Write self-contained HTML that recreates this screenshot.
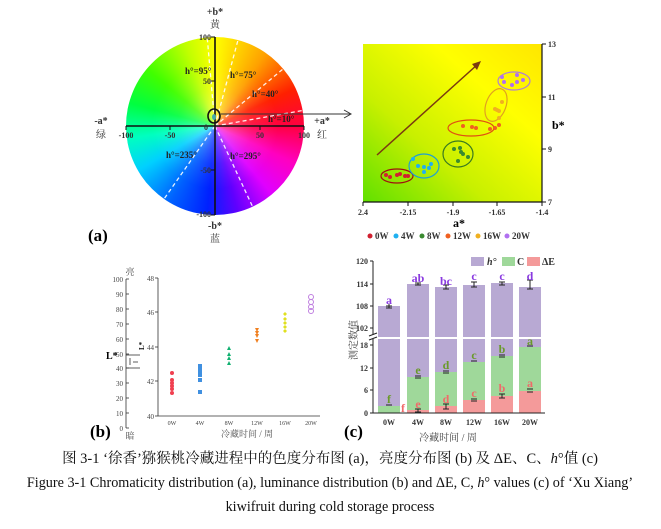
<!DOCTYPE html>
<html><head><meta charset="utf-8">
<style>
body{margin:0;background:#fff;}
svg{display:block;font-family:"Liberation Serif","Noto Serif CJK SC",serif;}
.wheel{position:absolute;left:126px;top:37px;width:178px;height:178px;border-radius:50%;
background:conic-gradient(from 0deg,#ffff00 0deg,#ffa000 35deg,#ff2000 65deg,#ff0040 90deg,#ff00c0 115deg,#e000ff 140deg,#6000ff 165deg,#0020ff 185deg,#0060ff 210deg,#00d0ff 240deg,#00ffc0 262deg,#00ff40 285deg,#40ff00 310deg,#c0ff00 340deg,#ffff00 360deg);}
.wheel:after{content:"";position:absolute;inset:0;border-radius:50%;background:radial-gradient(circle,rgba(255,255,255,0.35) 0%,rgba(255,255,255,0.08) 30%,rgba(255,255,255,0) 50%);}
.ab{position:absolute;left:363px;top:44px;width:179px;height:158px;background:linear-gradient(to top right,#60e000 0%,#c8f000 35%,#ffff00 70%,#ffe600 100%);}
</style></head><body>
<div style="position:relative;width:661px;height:529px;overflow:hidden">
<div class="wheel"></div>
<div class="ab"></div>
<svg width="661" height="529" style="position:absolute;left:0;top:0">
<g stroke="#fff" stroke-width="1.3" stroke-dasharray="4,3" opacity="0.9">
<line x1="215" y1="126" x2="302.6" y2="110.5"/>
<line x1="215" y1="126" x2="283.2" y2="68.8"/>
<line x1="215" y1="126" x2="238" y2="40"/>
<line x1="215" y1="126" x2="207.2" y2="37.3"/>
<line x1="215" y1="126" x2="164" y2="199"/>
<line x1="215" y1="126" x2="252.6" y2="206.7"/>
</g>
<g stroke="#111" stroke-width="1.6" fill="none">
<line x1="126" y1="126" x2="304" y2="126"/>
<line x1="215" y1="37" x2="215" y2="215"/>
<ellipse cx="214" cy="116" rx="6" ry="7"/>
</g>
<line x1="221" y1="114" x2="350" y2="114" stroke="#333" stroke-width="1"/>
<path d="M344,110 L351,114 L344,118" stroke="#333" fill="none"/>
<ellipse cx="214" cy="117" rx="2" ry="3" fill="#4aa"/>
<g stroke="#111" stroke-width="1">
<line x1="126" y1="126" x2="126" y2="130"/><line x1="170" y1="126" x2="170" y2="130"/><line x1="260" y1="126" x2="260" y2="130"/><line x1="304" y1="126" x2="304" y2="130"/>
<line x1="211" y1="37" x2="215" y2="37"/><line x1="211" y1="81" x2="215" y2="81"/><line x1="211" y1="170" x2="215" y2="170"/><line x1="211" y1="215" x2="215" y2="215"/>
</g>
<g font-size="8" font-weight="bold" fill="#333">
<text x="126" y="138" text-anchor="middle">-100</text><text x="170" y="138" text-anchor="middle">-50</text><text x="260" y="138" text-anchor="middle">50</text><text x="304" y="138" text-anchor="middle">100</text>
<text x="211" y="40" text-anchor="end">100</text><text x="211" y="84" text-anchor="end">50</text><text x="211" y="173" text-anchor="end">-50</text><text x="211" y="217" text-anchor="end">-100</text>
<text x="208" y="130" text-anchor="end">0</text>
</g>
<g font-size="9" font-weight="bold" fill="#222">
<text x="185" y="74">h°=95°</text><text x="230" y="78">h°=75°</text><text x="252" y="97">h°=40°</text><text x="268" y="122">h°=10°</text>
<text x="166" y="158">h°=235°</text><text x="230" y="159">h°=295°</text>
</g>
<g font-size="10" font-weight="bold" fill="#333" text-anchor="middle">
<text x="215" y="15">+b*</text><text x="215" y="28" font-weight="normal">黄</text>
<text x="215" y="229">-b*</text><text x="215" y="242" font-weight="normal">蓝</text>
<text x="101" y="124">-a*</text><text x="101" y="138" font-weight="normal">绿</text>
<text x="322" y="124">+a*</text><text x="322" y="138" font-weight="normal">红</text>
</g>
<text x="88" y="241" font-size="17" font-weight="bold">(a)</text>

<g stroke="#111" stroke-width="1.2" fill="none">
<line x1="363" y1="202" x2="542" y2="202"/><line x1="542" y1="44" x2="542" y2="202"/>
</g>
<g stroke="#111" stroke-width="1">
<line x1="363" y1="202" x2="363" y2="206"/><line x1="408" y1="202" x2="408" y2="206"/><line x1="453" y1="202" x2="453" y2="206"/><line x1="497" y1="202" x2="497" y2="206"/><line x1="542" y1="202" x2="542" y2="206"/>
<line x1="542" y1="44" x2="546" y2="44"/><line x1="542" y1="97" x2="546" y2="97"/><line x1="542" y1="149" x2="546" y2="149"/><line x1="542" y1="202" x2="546" y2="202"/>
</g>
<g font-size="8" font-weight="bold" fill="#333">
<text x="363" y="215" text-anchor="middle">2.4</text><text x="408" y="215" text-anchor="middle">-2.15</text><text x="453" y="215" text-anchor="middle">-1.9</text><text x="497" y="215" text-anchor="middle">-1.65</text><text x="542" y="215" text-anchor="middle">-1.4</text>
<text x="548" y="47">13</text><text x="548" y="100">11</text><text x="548" y="152">9</text><text x="548" y="205">7</text>
</g>
<text x="459" y="227" font-size="12" font-weight="bold" text-anchor="middle">a*</text>
<text x="552" y="129" font-size="12" font-weight="bold">b*</text>
<line x1="377" y1="155" x2="478" y2="64" stroke="#7a3a10" stroke-width="1.5"/>
<path d="M472,64 L481,61 L477,70 Z" fill="#7a3a10"/>
<g fill="none" stroke-width="1.2">
<ellipse cx="397" cy="176" rx="16" ry="7" stroke="#a01010"/>
<ellipse cx="424" cy="166" rx="15" ry="12" stroke="#20a0d0"/>
<ellipse cx="458" cy="154" rx="15" ry="13" stroke="#3a7a20"/>
<ellipse cx="471" cy="128" rx="23" ry="8" stroke="#e05010"/>
<ellipse cx="496" cy="105" rx="10" ry="17" stroke="#e0a020" transform="rotate(20 496 105)"/>
<ellipse cx="514" cy="81" rx="16" ry="9" stroke="#b080d0"/>
</g>
<g fill="#d02030"><circle cx="386" cy="175" r="2"/><circle cx="390" cy="177" r="2"/><circle cx="397" cy="175" r="2"/><circle cx="400" cy="174" r="2"/><circle cx="405" cy="176" r="2"/><circle cx="408" cy="176" r="2"/></g>
<g fill="#20b0f0"><circle cx="413" cy="159" r="2"/><circle cx="418" cy="166" r="2"/><circle cx="424" cy="167" r="2"/><circle cx="424" cy="172" r="2"/><circle cx="429" cy="168" r="2"/><circle cx="431" cy="164" r="2"/></g>
<g fill="#3a8a30"><circle cx="454" cy="149" r="2"/><circle cx="460" cy="148" r="2"/><circle cx="461" cy="152" r="2"/><circle cx="463" cy="154" r="2"/><circle cx="458" cy="161" r="2"/><circle cx="468" cy="157" r="2"/></g>
<g fill="#f06020"><circle cx="463" cy="126" r="2"/><circle cx="472" cy="127" r="2"/><circle cx="476" cy="128" r="2"/><circle cx="490" cy="129" r="2"/><circle cx="495" cy="128" r="2"/><circle cx="499" cy="125" r="2"/></g>
<g fill="#f0b020"><circle cx="502" cy="102" r="2"/><circle cx="495" cy="109" r="2"/><circle cx="497" cy="110" r="2"/><circle cx="499" cy="111" r="2"/><circle cx="499" cy="118" r="2"/></g>
<g fill="#b070f0"><circle cx="502" cy="77" r="2"/><circle cx="504" cy="82" r="2"/><circle cx="512" cy="85" r="2"/><circle cx="517" cy="82" r="2"/><circle cx="517" cy="75" r="2"/><circle cx="523" cy="80" r="2"/></g>
<g font-size="9" font-weight="bold" fill="#333">
<circle cx="370" cy="236" r="2.5" fill="#d02030"/><text x="375" y="239">0W</text>
<circle cx="396" cy="236" r="2.5" fill="#20b0f0"/><text x="401" y="239">4W</text>
<circle cx="422" cy="236" r="2.5" fill="#3a8a30"/><text x="427" y="239">8W</text>
<circle cx="448" cy="236" r="2.5" fill="#f06020"/><text x="453" y="239">12W</text>
<circle cx="478" cy="236" r="2.5" fill="#f0b020"/><text x="483" y="239">16W</text>
<circle cx="507" cy="236" r="2.5" fill="#b070f0"/><text x="512" y="239">20W</text>
</g>

<g stroke="#333" stroke-width="0.8">
<line x1="126" y1="279" x2="126" y2="428"/>
<line x1="126" y1="279" x2="129" y2="279"/><line x1="126" y1="294" x2="129" y2="294"/><line x1="126" y1="309" x2="129" y2="309"/><line x1="126" y1="324" x2="129" y2="324"/><line x1="126" y1="339" x2="129" y2="339"/><line x1="126" y1="354" x2="129" y2="354"/><line x1="126" y1="368" x2="129" y2="368"/><line x1="126" y1="383" x2="129" y2="383"/><line x1="126" y1="398" x2="129" y2="398"/><line x1="126" y1="413" x2="129" y2="413"/><line x1="126" y1="428" x2="129" y2="428"/>
<line x1="126" y1="355" x2="140" y2="355"/><line x1="126" y1="368" x2="140" y2="368"/>
<line x1="130" y1="358" x2="130" y2="365"/><line x1="133" y1="362" x2="138" y2="362"/>
<line x1="158" y1="278" x2="158" y2="416"/><line x1="158" y1="416" x2="320" y2="416"/>
<line x1="155" y1="278" x2="158" y2="278"/><line x1="155" y1="312" x2="158" y2="312"/><line x1="155" y1="347" x2="158" y2="347"/><line x1="155" y1="381" x2="158" y2="381"/><line x1="155" y1="416" x2="158" y2="416"/>
</g>
<g font-size="7" fill="#444" text-anchor="end">
<text x="123" y="282">100</text><text x="123" y="297">90</text><text x="123" y="312">80</text><text x="123" y="327">70</text><text x="123" y="342">60</text><text x="123" y="357">50</text><text x="123" y="371">40</text><text x="123" y="386">30</text><text x="123" y="401">20</text><text x="123" y="416">10</text><text x="123" y="431">0</text>
<text x="154" y="281">48</text><text x="154" y="315">46</text><text x="154" y="350">44</text><text x="154" y="384">42</text><text x="154" y="419">40</text>
</g>
<g font-size="6" fill="#444" text-anchor="middle">
<text x="172" y="425">0W</text><text x="200" y="425">4W</text><text x="229" y="425">8W</text><text x="257" y="425">12W</text><text x="285" y="425">16W</text><text x="311" y="425">20W</text>
</g>
<text x="130" y="275" font-size="9" fill="#444" text-anchor="middle">亮</text>
<text x="130" y="439" font-size="9" fill="#444" text-anchor="middle">暗</text>
<text x="106" y="359" font-size="10" font-weight="bold">L*</text>
<text x="144" y="350" font-size="7" font-weight="bold" transform="rotate(-90 144 350)">L*</text>
<text x="247" y="437" font-size="9" fill="#555" text-anchor="middle">冷藏时间 / 周</text>
<text x="90" y="437" font-size="17" font-weight="bold">(b)</text>
<g fill="#f04050"><circle cx="172" cy="373" r="2"/><circle cx="172" cy="380" r="2"/><circle cx="172" cy="383" r="2"/><circle cx="172" cy="386" r="2"/><circle cx="172" cy="389" r="2"/><circle cx="172" cy="393" r="2"/></g>
<g fill="#4090e0"><rect x="198" y="364" width="4" height="4"/><rect x="198" y="367" width="4" height="4"/><rect x="198" y="370" width="4" height="4"/><rect x="198" y="373" width="4" height="4"/><rect x="198" y="378" width="4" height="4"/><rect x="198" y="390" width="4" height="4"/></g>
<g fill="#10b070"><path d="M229,346 l2,4 h-4z"/><path d="M229,352 l2,4 h-4z"/><path d="M229,356 l2,4 h-4z"/><path d="M229,361 l2,4 h-4z"/></g>
<g fill="#f08020"><path d="M255,328 h4 l-2,4z"/><path d="M255,331 h4 l-2,4z"/><path d="M255,334 h4 l-2,4z"/><path d="M255,339 h4 l-2,4z"/></g>
<g fill="#e0e020"><path d="M285,312 l2,2 -2,2 -2,-2z"/><path d="M285,317 l2,2 -2,2 -2,-2z"/><path d="M285,321 l2,2 -2,2 -2,-2z"/><path d="M285,325 l2,2 -2,2 -2,-2z"/><path d="M285,329 l2,2 -2,2 -2,-2z"/></g>
<g fill="none" stroke="#c080e0"><circle cx="311" cy="297" r="2.5"/><circle cx="311" cy="302" r="2.5"/><circle cx="311" cy="307" r="2.5"/><circle cx="311" cy="311" r="2.5"/></g>

<g>
<rect x="378" y="306" width="22" height="31" fill="#b8a9d3"/>
<rect x="407" y="284" width="22" height="53" fill="#b8a9d3"/>
<rect x="435" y="287" width="22" height="50" fill="#b8a9d3"/>
<rect x="463" y="285" width="22" height="52" fill="#b8a9d3"/>
<rect x="491" y="283" width="22" height="54" fill="#b8a9d3"/>
<rect x="519" y="287" width="22" height="50" fill="#b8a9d3"/>
<g fill="#b8a9d3"><rect x="378" y="339" width="22" height="74"/><rect x="407" y="339" width="22" height="74"/><rect x="435" y="339" width="22" height="74"/><rect x="463" y="339" width="22" height="74"/><rect x="491" y="339" width="22" height="74"/><rect x="519" y="339" width="22" height="74"/></g>
<g fill="#9fd89a"><rect x="378" y="406" width="22" height="7"/><rect x="407" y="377" width="22" height="36"/><rect x="435" y="372" width="22" height="41"/><rect x="463" y="362" width="22" height="51"/><rect x="491" y="356" width="22" height="57"/><rect x="519" y="347" width="22" height="66"/></g>
<g fill="#f49a9a"><rect x="407" y="410" width="22" height="3"/><rect x="435" y="406" width="22" height="7"/><rect x="463" y="400" width="22" height="13"/><rect x="491" y="396" width="22" height="17"/><rect x="519" y="391" width="22" height="22"/></g>
</g>
<g stroke="#222" stroke-width="1">
<line x1="373" y1="261" x2="373" y2="335"/><line x1="373" y1="339" x2="373" y2="413"/><line x1="373" y1="413" x2="545" y2="413"/>
<line x1="369" y1="336" x2="377" y2="333"/><line x1="369" y1="340" x2="377" y2="337"/>
<line x1="370" y1="261" x2="373" y2="261"/><line x1="370" y1="284" x2="373" y2="284"/><line x1="370" y1="306" x2="373" y2="306"/><line x1="370" y1="328" x2="373" y2="328"/>
<line x1="370" y1="345" x2="373" y2="345"/><line x1="370" y1="368" x2="373" y2="368"/><line x1="370" y1="390" x2="373" y2="390"/><line x1="370" y1="413" x2="373" y2="413"/>
<g fill="none"><path d="M386,306 h6 M389,304 v4 M386,308 h6"/><path d="M415,283 h6 M418,283 v2 M415,285 h6"/><path d="M443,285 h6 M446,285 v4 M443,289 h6"/><path d="M471,282 h6 M474,282 v5 M471,287 h6"/><path d="M499,282 h6 M502,282 v3 M499,285 h6"/><path d="M527,280 h6 M530,280 v9 M527,289 h6"/>
<path d="M386,405 h6"/><path d="M415,376 h6 M415,378 h6"/><path d="M443,371 h6 M443,373 h6"/><path d="M471,361 h6"/><path d="M499,355 h6 M499,357 h6"/><path d="M527,346 h6"/>
<path d="M415,409 h6 M418,409 v3 M415,412 h6"/><path d="M443,404 h6 M446,404 v5 M443,409 h6"/><path d="M471,399 h6 M471,401 h6"/><path d="M499,394 h6 M502,394 v4 M499,398 h6"/><path d="M527,389 h6 M527,392 h6"/></g>
</g>
<g font-size="8" font-weight="bold" fill="#333" text-anchor="end">
<text x="368" y="264">120</text><text x="368" y="287">114</text><text x="368" y="309">108</text><text x="368" y="331">102</text>
<text x="368" y="348">18</text><text x="368" y="371">12</text><text x="368" y="393">6</text><text x="368" y="416">0</text>
</g>
<g font-size="8" font-weight="bold" fill="#333" text-anchor="middle">
<text x="389" y="425">0W</text><text x="418" y="425">4W</text><text x="446" y="425">8W</text><text x="474" y="425">12W</text><text x="502" y="425">16W</text><text x="530" y="425">20W</text>
</g>
<text x="448" y="441" font-size="10" fill="#444" text-anchor="middle">冷藏时间 / 周</text>
<text x="357" y="340" font-size="10" fill="#444" text-anchor="middle" transform="rotate(-90 357 340)">测定数值</text>
<text x="344" y="437" font-size="17" font-weight="bold">(c)</text>
<g font-size="12" font-weight="bold" text-anchor="middle" fill="#8a3ae0">
<text x="389" y="304">a</text><text x="418" y="282">ab</text><text x="446" y="285">bc</text><text x="474" y="280">c</text><text x="502" y="280">c</text><text x="530" y="280">d</text>
</g>
<g font-size="12" font-weight="bold" text-anchor="middle" fill="#6a9a2a">
<text x="389" y="403">f</text><text x="418" y="374">e</text><text x="446" y="369">d</text><text x="474" y="359">c</text><text x="502" y="353">b</text><text x="530" y="345">a</text>
</g>
<g font-size="12" font-weight="bold" text-anchor="middle" fill="#f06a6a">
<text x="403" y="412">f</text><text x="418" y="408">e</text><text x="446" y="403">d</text><text x="474" y="397">c</text><text x="502" y="392">b</text><text x="530" y="387">a</text>
</g>
<rect x="471" y="257" width="13" height="9" fill="#b8a9d3"/>
<rect x="502" y="257" width="13" height="9" fill="#9fd89a"/>
<rect x="527" y="257" width="13" height="9" fill="#f49a9a"/>
<g font-size="10" font-weight="bold" fill="#333"><text x="487" y="265" font-style="italic">h°</text><text x="517" y="265">C</text><text x="542" y="265">ΔE</text></g>

<g fill="#111" text-anchor="middle">
<text x="330" y="463" font-size="14.5">图 3-1 ‘徐香’猕猴桃冷藏进程中的色度分布图 (a)，亮度分布图 (b) 及 ΔE、C、<tspan font-style="italic">h</tspan>°值 (c)</text>
<text x="330" y="487" font-size="14.2">Figure 3-1 Chromaticity distribution (a), luminance distribution (b) and ΔE, C, <tspan font-style="italic">h</tspan>° values (c) of ‘Xu Xiang’</text>
<text x="330" y="511" font-size="14.2">kiwifruit during cold storage process</text>
</g>
</svg>
</div>
</body></html>
